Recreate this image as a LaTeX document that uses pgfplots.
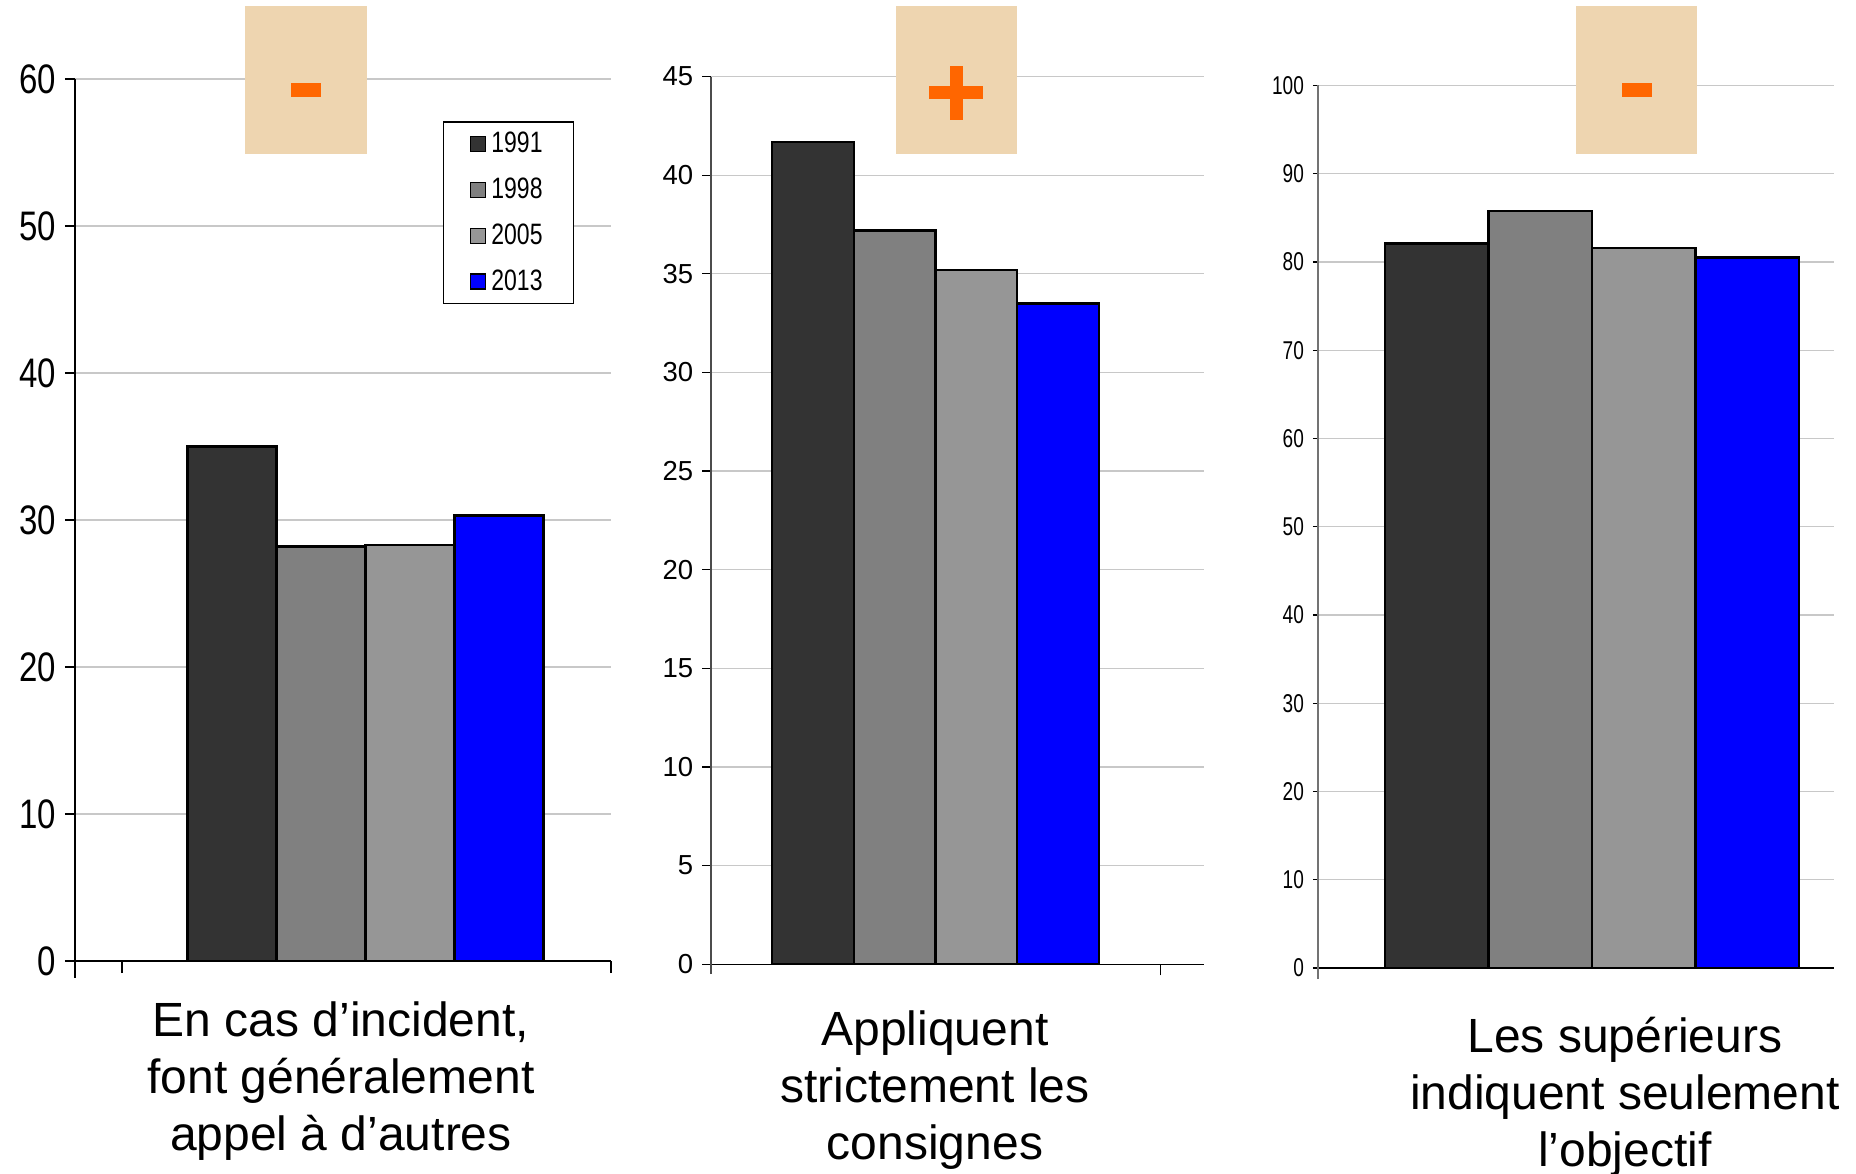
\documentclass[border=0pt]{standalone}
\usepackage{pgfplots}
\pgfplotsset{compat=1.18}
\usepackage{fontspec}
\setmainfont{Liberation Sans}
\newfontfamily\narrowA[FakeStretch=0.8]{Liberation Sans}
\newfontfamily\narrowB[FakeStretch=0.74]{Liberation Sans}
\newfontfamily\narrowL[FakeStretch=0.78]{Liberation Sans}
\definecolor{c1991}{RGB}{51,51,51}
\definecolor{c1998}{RGB}{128,128,128}
\definecolor{c2005}{RGB}{150,150,150}
\definecolor{c2013}{RGB}{0,0,255}
\definecolor{signbg}{RGB}{238,213,176}
\definecolor{signfg}{RGB}{255,102,0}
\definecolor{gridc}{RGB}{200,200,200}

\pgfplotsset{
  panel/.style={
    scale only axis, anchor=south west, ybar=0pt, axis lines*=left, ymin=0,
    ymajorgrids, major grid style={gridc, line width=0.5pt},
    tick align=outside, tick style={black, line width=0.5pt},
    xticklabels={}, /pgf/number format/assume math mode=true,
    axis line style={black, line width=0.5pt},
    clip=false,
  },
  sq/.style={legend image code/.code={\draw[##1, line width=0.6pt] (0pt,-3pt) rectangle (6pt,3pt);}},
  b1/.style={fill=c1991, draw=black, line width=0.9pt, sq},
  b2/.style={fill=c1998, draw=black, line width=0.9pt, sq},
  b3/.style={fill=c2005, draw=black, line width=0.9pt, sq},
  b4/.style={fill=c2013, draw=black, line width=0.9pt, sq},
}

\begin{document}
\begin{tikzpicture}
\useasboundingbox (0,0) rectangle (742.4pt,469.2pt);

% Panel 1
\begin{axis}[panel,
  at={(30pt,84.8pt)}, width=214.4pt, height=352.8pt,
  xmin=-290.5, xmax=245.5, ymax=60, ytick={0,10,...,60},
  xtick={-243.5,245.5}, bar width=35.6pt,
  major tick length=4pt,
  xtick style={/pgfplots/major tick length=4.8pt},
  y axis line style={shorten <=-6.6pt},
  yticklabel style={font=\narrowA\fontsize{16.5}{17}\selectfont},
  legend style={at={(0.6866,0.952)}, anchor=north west, draw=black, line width=0.5pt,
    font=\narrowL\fontsize{11.8}{11.8}\selectfont, row sep=4.6pt,
    inner xsep=10.5pt, inner ysep=2pt},
  legend cell align=left,
]
\addplot[b1] coordinates {(0,35.0)};
\addplot[b2] coordinates {(0,28.2)};
\addplot[b3] coordinates {(0,28.3)};
\addplot[b4] coordinates {(0,30.3)};
\legend{1991,1998,2005,2013}
\end{axis}

% Panel 2
\begin{axis}[panel,
  at={(284.4pt,83.48pt)}, width=197.2pt, height=355.1pt,
  xmin=-224.4, xmax=268.6, ymax=45, ytick={0,5,...,45},
  xtick={225.3}, bar width=32.7pt,
  major tick length=3.6pt,
  xtick style={/pgfplots/major tick length=4.4pt},
  y axis line style={black!70, shorten <=-3.9pt},
  yticklabel style={font=\fontsize{11}{11}\selectfont},
]
\addplot[b1] coordinates {(0,41.7)};
\addplot[b2] coordinates {(0,37.2)};
\addplot[b3] coordinates {(0,35.2)};
\addplot[b4] coordinates {(0,33.5)};
\end{axis}

% Panel 3
\begin{axis}[panel,
  at={(527.1pt,82pt)}, width=206.5pt, height=353pt,
  xmin=-274.3, xmax=242, ymax=100, ytick={0,10,...,100},
  xtick=\empty, bar width=41.4pt,
  major tick length=2pt,
  y axis line style={black!55, line width=0.9pt, shorten <=-4.4pt},
  yticklabel style={font=\narrowB\fontsize{10.3}{10.3}\selectfont},
]
\addplot[b1] coordinates {(0,82.1)};
\addplot[b2] coordinates {(0,85.8)};
\addplot[b3] coordinates {(0,81.6)};
\addplot[b4] coordinates {(0,80.5)};
\end{axis}

% sign boxes
\fill[signbg] (98pt,407.6pt) rectangle (146.8pt,466.8pt);
\fill[signfg] (116.4pt,430.4pt) rectangle (128.4pt,436pt);
\fill[signbg] (358.4pt,407.6pt) rectangle (406.8pt,466.8pt);
\fill[signfg] (371.6pt,429.4pt) rectangle (393.2pt,434.6pt);
\fill[signfg] (379.8pt,421.1pt) rectangle (385.1pt,442.8pt);
\fill[signbg] (630.4pt,407.6pt) rectangle (678.8pt,466.8pt);
\fill[signfg] (648.8pt,430.4pt) rectangle (660.8pt,436pt);

% category labels
\begin{scope}[every node/.style={anchor=base, inner sep=0pt, font=\fontsize{19.2}{22.8}\selectfont}]
\node at (136.4pt,54.8pt) {En cas d’incident,};
\node at (136.4pt,32pt) {font généralement};
\node at (136.4pt,9.2pt) {appel à d’autres};
\node at (374pt,51.2pt) {Appliquent};
\node at (374pt,28.4pt) {strictement les};
\node at (374pt,5.6pt) {consignes};
\node at (650pt,48.4pt) {Les supérieurs};
\node at (650pt,25.6pt) {indiquent seulement};
\node at (650pt,2.8pt) {l’objectif};
\end{scope}
\end{tikzpicture}
\end{document}
